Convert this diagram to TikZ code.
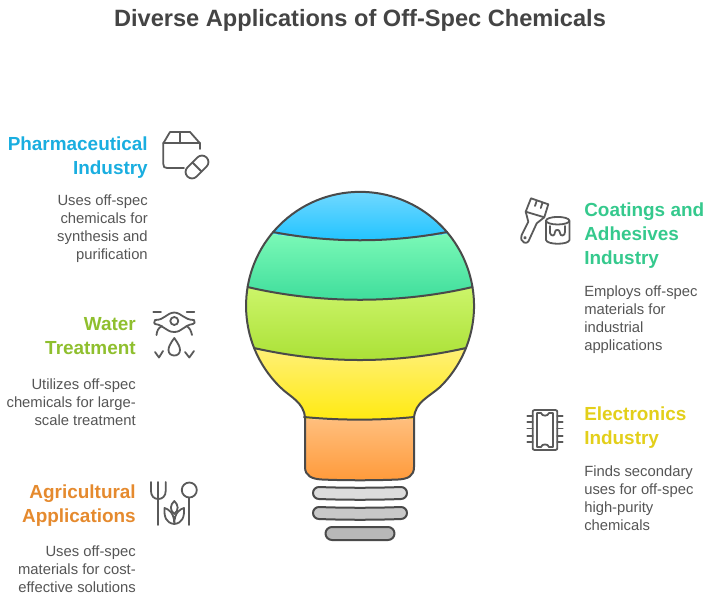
\documentclass[tikz,border=0pt]{standalone}
\usepackage{fontspec}
\setmainfont{Liberation Sans}
\definecolor{ink}{HTML}{4A4A4A}
\definecolor{icon}{HTML}{5A5A5A}
\definecolor{titlec}{HTML}{444444}
\definecolor{bodyc}{HTML}{555555}
\definecolor{cblue}{HTML}{1AAEE0}
\definecolor{clime}{HTML}{8FBF2E}
\definecolor{corange}{HTML}{E58A2E}
\definecolor{cgreen}{HTML}{35C98D}
\definecolor{cyellow}{HTML}{E3CF1A}
\tikzset{
  x=0.75pt,y=-0.75pt,
  headl/.style={anchor=north east,align=right,inner sep=0pt,font=\fontsize{14.2}{18}\selectfont\bfseries},
  headr/.style={anchor=north west,align=left,inner sep=0pt,font=\fontsize{14.2}{18}\selectfont\bfseries},
  bodyl/.style={anchor=north east,align=right,inner sep=0pt,text=bodyc,font=\fontsize{11.1}{13.5}\selectfont},
  bodyr/.style={anchor=north west,align=left,inner sep=0pt,text=bodyc,font=\fontsize{11.1}{13.5}\selectfont},
  bulbline/.style={draw=ink,line width=1.5pt,line cap=round,line join=round},
  pill/.style={draw=ink,line width=1.5pt,line join=round},
  ic/.style={draw=icon,line width=1.35pt,line cap=round,line join=round},
}
\newcommand{\bulbpath}{(280,387) arc[start angle=134.6,end angle=405.4,radius=114] .. controls (429,397) and (415,402) .. (414,418) -- (414,467) .. controls (414,476) and (408,479) .. (398,479.5) .. controls (375,480.5) and (345,480.5) .. (322,479.5) .. controls (312,479) and (305,476) .. (305,467) -- (305,418) .. controls (304,402) and (290,397) .. (280,387) -- cycle}
\begin{document}
\begin{tikzpicture}
\useasboundingbox (0,0) rectangle (710,608);
\node[anchor=center,inner sep=0pt,text=titlec,font=\fontsize{17.7}{22}\selectfont\bfseries] (title) at (360,20) {Diverse Applications of Off-Spec Chemicals};

% bulb fills
\begin{scope}
\clip \bulbpath;
\shade[top color={rgb,255:red,112;green,216;blue,255},bottom color={rgb,255:red,28;green,194;blue,255}] (240,192) -- (480,192) -- (480,228) .. controls (410,244) and (310,244) .. (240,228) -- cycle;
\shade[top color={rgb,255:red,128;green,251;blue,185},bottom color={rgb,255:red,59;green,220;blue,154}] (240,228) .. controls (310,244) and (410,244) .. (480,228) -- (480,285) .. controls (410,304) and (310,304) .. (240,285) -- cycle;
\shade[top color={rgb,255:red,205;green,245;blue,107},bottom color={rgb,255:red,169;green,224;blue,52}] (240,285) .. controls (310,304) and (410,304) .. (480,285) -- (480,346) .. controls (410,364) and (310,364) .. (240,346) -- cycle;
\shade[top color={rgb,255:red,255;green,240;blue,122},bottom color={rgb,255:red,255;green,234;blue,16}] (240,346) .. controls (310,364) and (410,364) .. (480,346) -- (480,416) .. controls (410,421) and (310,421) .. (240,416) -- cycle;
\shade[top color={rgb,255:red,255;green,192;blue,128},bottom color={rgb,255:red,255;green,154;blue,58}] (240,416) .. controls (310,421) and (410,421) .. (480,416) -- (480,481) -- (240,481) -- cycle;
\end{scope}
% bulb lines
\draw[bulbline] \bulbpath;
\draw[bulbline] (273,232) .. controls (330,243) and (390,243) .. (447,232);
\draw[bulbline] (247.5,287) .. controls (320,304) and (400,304) .. (472.5,287);
\draw[bulbline] (254,348) .. controls (325,364) and (395,364) .. (466,348);
\draw[bulbline] (304,417) .. controls (340,420.5) and (380,420.5) .. (414,417);
% base
\path[pill,fill={rgb,255:red,220;green,220;blue,220}] (319,487) .. controls (345,488) and (375,488) .. (401,487) arc[start angle=-90,end angle=90,radius=6] .. controls (375,500) and (345,500) .. (319,499) arc[start angle=90,end angle=270,radius=6] -- cycle;
\path[pill,fill={rgb,255:red,200;green,200;blue,200}] (319,507) .. controls (345,508) and (375,508) .. (401,507) arc[start angle=-90,end angle=90,radius=6] .. controls (375,520) and (345,520) .. (319,519) arc[start angle=90,end angle=270,radius=6] -- cycle;
\path[pill,fill={rgb,255:red,184;green,184;blue,184}] (332,527) -- (388,527) arc[start angle=-90,end angle=90,radius=6.5] -- (332,540) arc[start angle=90,end angle=270,radius=6.5] -- cycle;

% left texts
\node[headl,text=cblue] (pharmaH) at (148,137) {Pharmaceutical\\Industry};
\node[bodyl] (pharmaB) at (148,195) {Uses off-spec\\chemicals for\\synthesis and\\purification};
\node[headl,text=clime] (waterH) at (136,317) {Water\\Treatment};
\node[bodyl] (waterB) at (136,378) {Utilizes off-spec\\chemicals for large-\\scale treatment};
\node[headl,text=corange] (agriH) at (136,485) {Agricultural\\Applications};
\node[bodyl] (agriB) at (136,546) {Uses off-spec\\materials for cost-\\effective solutions};
% right texts
\node[headr,text=cgreen] (coatH) at (584,203) {Coatings and\\Adhesives\\Industry};
\node[bodyr] (coatB) at (584,285) {Employs off-spec\\materials for\\industrial\\applications};
\node[headr,text=cyellow] (elecH) at (584,407) {Electronics\\Industry};
\node[bodyr] (elecB) at (584,465) {Finds secondary\\uses for off-spec\\high-purity\\chemicals};

% icon: box and pill
\draw[ic] (184,168) -- (167,168) .. controls (164.5,168) and (163.3,167) .. (163.3,164) -- (163.3,143.3) -- (170,132) -- (190,132) -- (200,143.3) -- (200,149);
\draw[ic] (163.3,143.3) -- (200,143.3);
\draw[ic] (180,132) -- (180,143.3);
\begin{scope}[shift={(197,167)},rotate=45]
\draw[ic] (-7,-6.5) -- (7,-6.5) arc[start angle=-90,end angle=90,radius=6.5] -- (-7,6.5) arc[start angle=90,end angle=270,radius=6.5] -- cycle;
\draw[ic] (0,-6.5) -- (0,6.5);
\end{scope}

% icon: water
\draw[ic] (153.3,312.3) -- (161,312.3);
\draw[ic] (186.7,312.3) -- (194.3,312.3);
\draw[ic] (174.3,321) circle[radius=4];
\draw[ic] (155,320) .. controls (165,320) and (166,313) .. (174.3,312.5) .. controls (182,313) and (184,320) .. (194,320) .. controls (195,322) and (195,324) .. (193,324) .. controls (184,325) and (182,332) .. (174.3,332) .. controls (166,332) and (164,325) .. (155,324) .. controls (154,324) and (154,322) .. (155,320) -- cycle;
\draw[ic] (162,326) .. controls (158,328) and (157,331) .. (156.5,335);
\draw[ic] (186.5,326) .. controls (190,328) and (191,331) .. (192,335);
\draw[ic] (174.3,338) .. controls (170,344) and (168.5,347) .. (168.5,350) .. controls (168.5,353.5) and (171,355.5) .. (174.3,355.5) .. controls (177.5,355.5) and (180,353.5) .. (180,350) .. controls (180,347) and (178.5,344) .. (174.3,338) -- cycle;
\draw[ic] (155,352) -- (159,357.5) -- (163,351);
\draw[ic] (185,352) -- (189.3,357.5) -- (194,351);

% icon: agriculture
\draw[ic] (151,482) -- (151,491) .. controls (151,496) and (154,499) .. (158.3,499) .. controls (162.5,499) and (165.7,496) .. (165.7,491) -- (165.7,482);
\draw[ic] (158.3,482) -- (158.3,525);
\draw[ic] (189.3,490) circle[radius=7.5];
\draw[ic] (189.3,497.5) -- (189.3,525);
\draw[ic] (174.3,501) .. controls (170,505) and (169.5,510) .. (174.3,514) .. controls (179,510) and (178.5,505) .. (174.3,501) -- cycle;
\draw[ic] (174.3,524) .. controls (166,523) and (164,517) .. (164.5,508) .. controls (168,509) and (174.3,512) .. (174.3,524) .. controls (174.3,512) and (180.5,509) .. (184,508) .. controls (184.5,517) and (182.5,523) .. (174.3,524);

% icon: brush and can
\draw[ic] (531,198.3) -- (548.3,204.3) -- (544.3,217.3) -- (525.7,211.7) -- cycle;
\draw[ic] (536.7,200.7) -- (535,206);
\draw[ic] (542.5,202.5) -- (540.8,208);
\draw[ic] (525.7,211.7) -- (528.3,221.7) -- (521.7,235) .. controls (520.5,239) and (521.5,241.5) .. (524,242.5) .. controls (527,243.5) and (528.5,242) .. (529.5,239) -- (536.7,223.3) -- (544.3,217.3);
\draw[ic] (525,237.7) circle[radius=0.8];
\draw[ic] (557.7,220.7) ellipse[x radius=11.7,y radius=3.8];
\draw[ic] (546,220.7) -- (546,240) .. controls (547,245) and (568.5,245) .. (569.5,240) -- (569.5,220.7);
\draw[ic] (550,226) -- (550,233) .. controls (551,236.5) and (555,236.5) .. (555,232) .. controls (555,229) and (560,229) .. (560,233) .. controls (560,236.5) and (565,236.5) .. (565,232) -- (565,226);

% icon: chip
\draw[ic] (534.7,410) -- (555.3,410) .. controls (556.7,410) and (557.3,410.7) .. (557.3,412) -- (557.3,448) .. controls (557.3,449.3) and (556.7,450) .. (555.3,450) -- (534.7,450) .. controls (533.3,450) and (532.7,449.3) .. (532.7,448) -- (532.7,412) .. controls (532.7,410.7) and (533.3,410) .. (534.7,410) -- cycle;
\draw[ic] (537,413) -- (541,413) .. controls (542,416.5) and (548,416.5) .. (549,413) -- (553,413) -- (553,447) -- (549,447) .. controls (548,443.5) and (542,443.5) .. (541,447) -- (537,447) -- cycle;
\foreach \yy in {415.7,422,428.5,435.7,441.7}{
  \draw[ic] (527.3,\yy) -- (532.7,\yy);
  \draw[ic] (557.3,\yy) -- (562.7,\yy);
}
\end{tikzpicture}
\end{document}
